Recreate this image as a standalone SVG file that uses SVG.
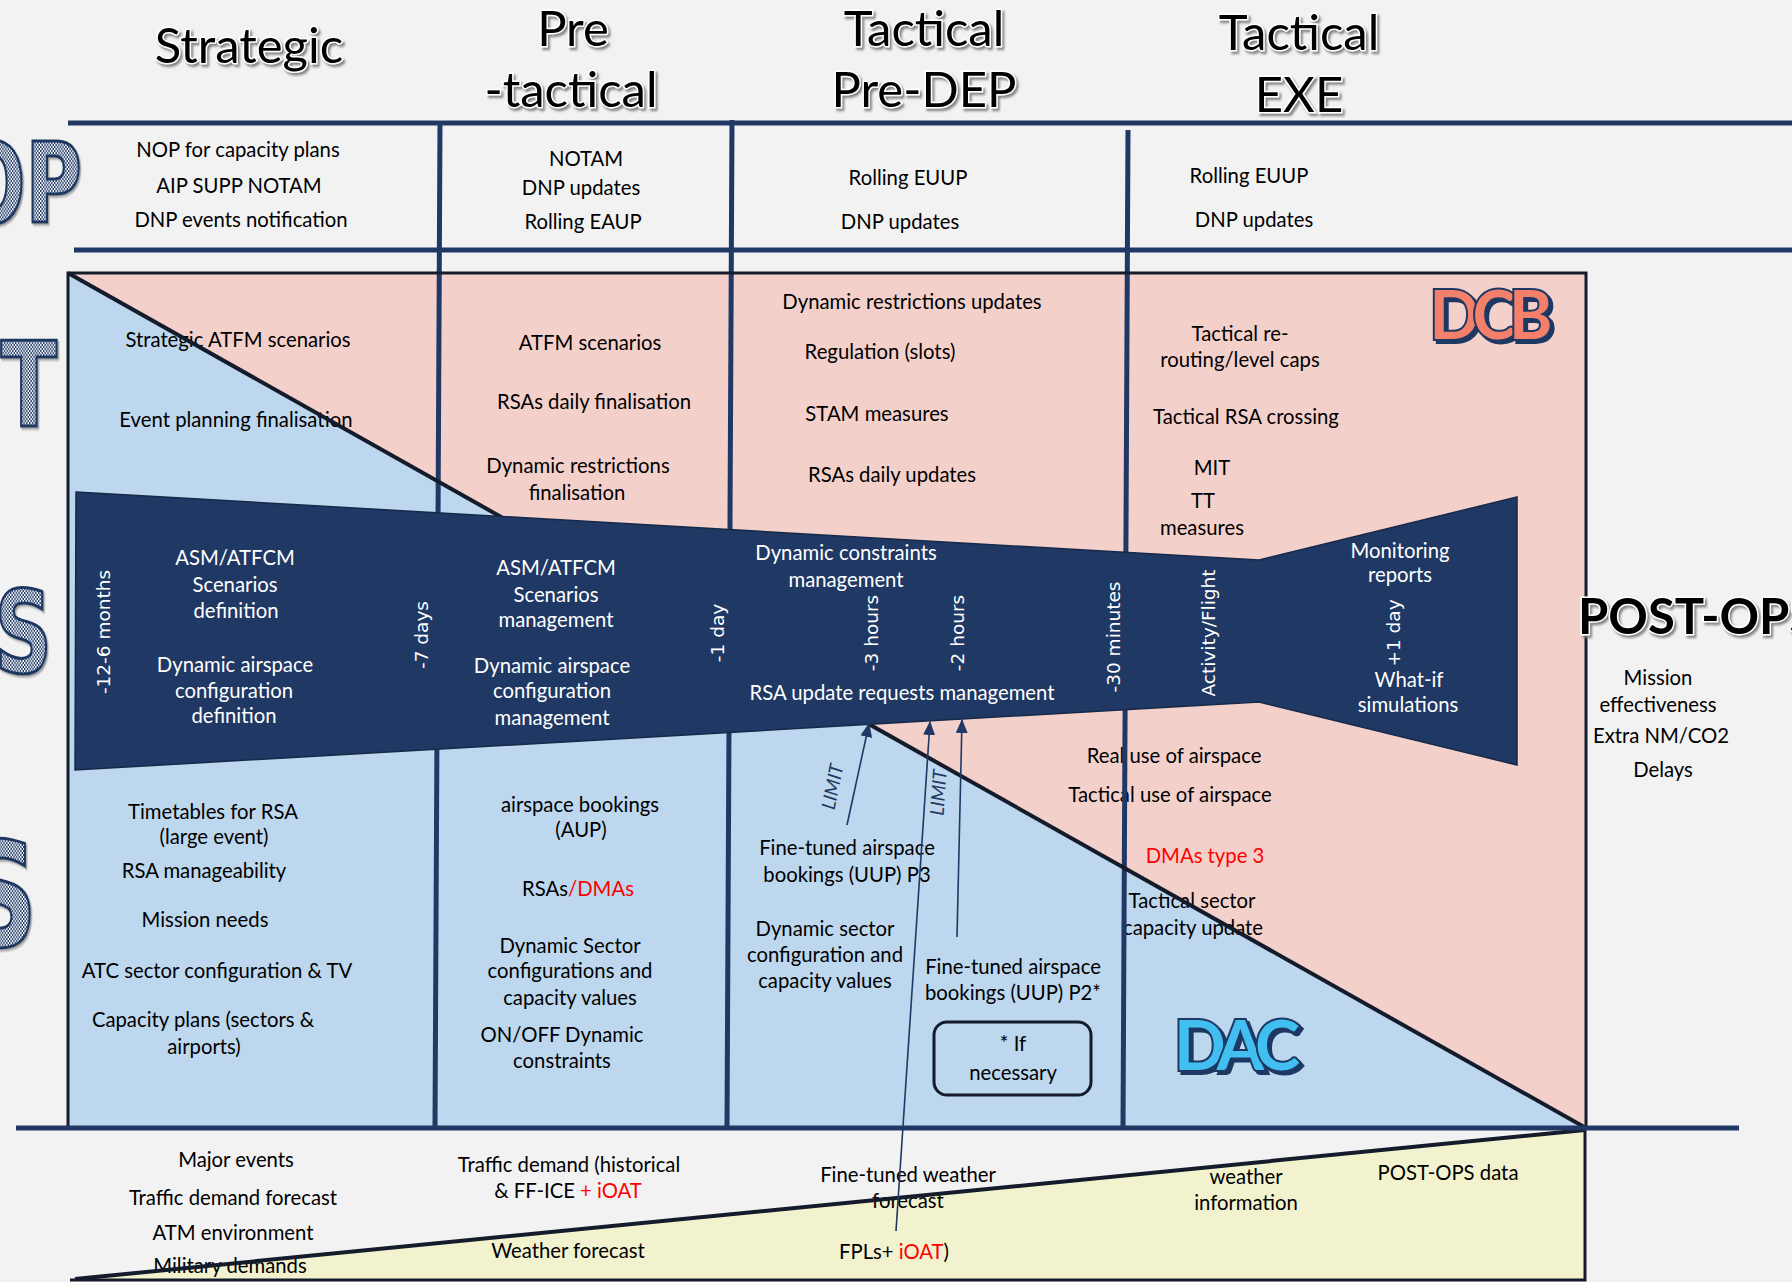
<svg xmlns="http://www.w3.org/2000/svg" width="1792" height="1282" viewBox="0 0 1792 1282">
  <defs>
    <style>
      .t { font-family: Lato, "Liberation Sans", sans-serif; font-size: 20.3px; fill: #000; text-anchor: middle; }
      .w { fill: #fff; }
      .red { fill: #ff0000; }
      .rot { font-family: "DejaVu Sans", sans-serif; font-size: 18.5px; fill: #fff; text-anchor: middle; }
      .hdr { font-family: Lato, "Liberation Sans", sans-serif; font-size: 49px; fill: #000; stroke: #fff; stroke-width: 3; paint-order: stroke; text-anchor: middle; filter: url(#hdrShadow); }
      .big { font-family: "DejaVu Sans", sans-serif; font-weight: bold; fill: url(#halftone); stroke: #1f3864; stroke-width: 3; text-anchor: end; filter: url(#bigShadow); }
      .logo { font-family: Lato, "Liberation Sans", sans-serif; font-weight: 700; stroke: #1f3864; stroke-width: 4; paint-order: stroke; text-anchor: middle; filter: url(#logoShadow); }
      .limit { font-family: Lato, "Liberation Sans", sans-serif; font-style: italic; font-size: 19px; fill: #1f3864; text-anchor: middle; }
      .grid { stroke: #1f3864; stroke-width: 5; fill: none; }
      .edge { stroke: #141b2b; fill: none; }
      .arrow { stroke: #1f3864; stroke-width: 1.6; fill: none; marker-end: url(#arrowHead); }
    </style>
    <filter id="hdrShadow" x="-10%" y="-20%" width="130%" height="150%">
      <feDropShadow dx="2" dy="2.5" stdDeviation="1.2" flood-color="#7a7a7a" flood-opacity="0.9"/>
    </filter>
    <filter id="logoShadow" x="-10%" y="-20%" width="130%" height="150%">
      <feDropShadow dx="3" dy="3" stdDeviation="0.4" flood-color="#1f3864" flood-opacity="1"/>
    </filter>
    <filter id="bigShadow" x="-10%" y="-10%" width="130%" height="130%">
      <feDropShadow dx="2" dy="2" stdDeviation="1" flood-color="#8a8a8a" flood-opacity="0.8"/>
    </filter>
    <pattern id="halftone" width="4" height="4" patternUnits="userSpaceOnUse">
      <rect width="4" height="4" fill="#ffffff"/>
      <rect width="2" height="2" fill="#1f3864"/>
      <rect x="2" y="2" width="2" height="2" fill="#1f3864"/>
    </pattern>
    <marker id="arrowHead" markerWidth="14" markerHeight="12" refX="13" refY="6" orient="auto" markerUnits="userSpaceOnUse">
      <path d="M0,0 L14,6 L0,12 z" fill="#1f3864"/>
    </marker>
  </defs>

  <!-- canvas -->
  <rect width="1792" height="1282" fill="#f2f2f2"/>

  <!-- DCB / DAC split box and the data wedge -->
  <g id="regions">
    <rect id="dcb-area" x="68" y="273" width="1518" height="855" fill="#f4d0cb"/>
    <polygon id="dac-area" points="68,273 1586,1128 68,1128" fill="#bdd7ee"/>
    <polygon id="data-area" points="75,1279 1585,1130 1585,1279" fill="#f2f2ce"/>
  </g>

  <!-- OP row -->
  <g id="op-row">
    <text class="t" x="238" y="157">NOP for capacity plans</text>
    <text class="t" x="239" y="193">AIP SUPP NOTAM</text>
    <text class="t" x="241" y="227">DNP events notification</text>
    <text class="t" x="586" y="166">NOTAM</text>
    <text class="t" x="581" y="195">DNP updates</text>
    <text class="t" x="583" y="229">Rolling EAUP</text>
    <text class="t" x="908" y="185">Rolling EUUP</text>
    <text class="t" x="900" y="229">DNP updates</text>
    <text class="t" x="1249" y="183">Rolling EUUP</text>
    <text class="t" x="1254" y="227">DNP updates</text>
  </g>

  <!-- DCB side -->
  <g id="dcb-strategic">
    <text class="t" x="238" y="347">Strategic ATFM scenarios</text>
    <text class="t" x="236" y="427">Event planning finalisation</text>
  </g>
  <g id="dcb-pretactical">
    <text class="t" x="590" y="350">ATFM scenarios</text>
    <text class="t" x="594" y="409">RSAs daily finalisation</text>
    <text class="t" x="578" y="473">Dynamic restrictions</text>
    <text class="t" x="577" y="500">finalisation</text>
  </g>
  <g id="dcb-predep">
    <text class="t" x="912" y="309">Dynamic restrictions updates</text>
    <text class="t" x="880" y="359">Regulation (slots)</text>
    <text class="t" x="877" y="421">STAM measures</text>
    <text class="t" x="892" y="482">RSAs daily updates</text>
  </g>
  <g id="dcb-exe">
    <text class="t" x="1240" y="341">Tactical re-</text>
    <text class="t" x="1240" y="367">routing/level caps</text>
    <text class="t" x="1246" y="424">Tactical RSA crossing</text>
    <text class="t" x="1212" y="475">MIT</text>
    <text class="t" x="1203" y="508">TT</text>
    <text class="t" x="1202" y="535">measures</text>
  </g>

  <!-- DAC side -->
  <g id="dac-strategic">
    <text class="t" x="213" y="819">Timetables for RSA</text>
    <text class="t" x="214" y="844">(large event)</text>
    <text class="t" x="204" y="878">RSA manageability</text>
    <text class="t" x="205" y="927">Mission needs</text>
    <text class="t" x="217" y="978">ATC sector configuration &amp; TV</text>
    <text class="t" x="203" y="1027">Capacity plans (sectors &amp;</text>
    <text class="t" x="204" y="1054">airports)</text>
  </g>
  <g id="dac-pretactical">
    <text class="t" x="580" y="812">airspace bookings</text>
    <text class="t" x="581" y="837">(AUP)</text>
    <text class="t" x="578" y="896">RSAs<tspan class="red">/DMAs</tspan></text>
    <text class="t" x="570" y="953">Dynamic Sector</text>
    <text class="t" x="570" y="978">configurations and</text>
    <text class="t" x="570" y="1005">capacity values</text>
    <text class="t" x="562" y="1042">ON/OFF Dynamic</text>
    <text class="t" x="562" y="1068">constraints</text>
  </g>
  <g id="dac-predep">
    <text class="t" x="847" y="855">Fine-tuned airspace</text>
    <text class="t" x="847" y="882">bookings (UUP) P3</text>
    <text class="t" x="825" y="936">Dynamic sector</text>
    <text class="t" x="825" y="962">configuration and</text>
    <text class="t" x="825" y="988">capacity values</text>
    <text class="t" x="1013" y="974">Fine-tuned airspace</text>
    <text class="t" x="1013" y="1000">bookings (UUP) P2*</text>
  </g>
  <g id="note-if-necessary">
    <rect x="934" y="1022" width="157" height="73" rx="13" ry="13" fill="none" stroke="#141b2b" stroke-width="3"/>
    <text class="t" x="1013" y="1051">* If</text>
    <text class="t" x="1013" y="1080">necessary</text>
  </g>
  <g id="dac-exe">
    <text class="t" x="1174" y="763">Real use of airspace</text>
    <text class="t" x="1170" y="802">Tactical use of airspace</text>
    <text class="t red" x="1205" y="863">DMAs type 3</text>
    <text class="t" x="1192" y="908">Tactical sector</text>
    <text class="t" x="1193" y="935">capacity update</text>
  </g>

  <!-- post-ops indicators -->
  <g id="post-ops-list">
    <text class="t" x="1658" y="685">Mission</text>
    <text class="t" x="1658" y="712">effectiveness</text>
    <text class="t" x="1661" y="743">Extra NM/CO2</text>
    <text class="t" x="1663" y="777">Delays</text>
  </g>

  <!-- input data row -->
  <g id="data-row">
    <text class="t" x="236" y="1167">Major events</text>
    <text class="t" x="233" y="1205">Traffic demand forecast</text>
    <text class="t" x="233" y="1240">ATM environment</text>
    <text class="t" x="230" y="1273">Military demands</text>
    <text class="t" x="569" y="1172">Traffic demand (historical</text>
    <text class="t" x="568" y="1198">&amp; FF-ICE <tspan class="red">+ iOAT</tspan></text>
    <text class="t" x="568" y="1258">Weather forecast</text>
    <text class="t" x="908" y="1182">Fine-tuned weather</text>
    <text class="t" x="908" y="1208">forecast</text>
    <text class="t" x="894" y="1259">FPLs+ <tspan class="red">iOAT</tspan>)</text>
    <text class="t" x="1246" y="1184">weather</text>
    <text class="t" x="1246" y="1210">information</text>
    <text class="t" x="1448" y="1180">POST-OPS data</text>
  </g>

  <!-- grid lines, frame and split diagonals -->
  <g id="grid">
    <path class="grid" d="M68,123 H1792"/>
    <path class="grid" d="M74,250 H1792"/>
    <path class="grid" d="M440,123 L435,1128"/>
    <path class="grid" d="M732,120 L727,1128"/>
    <path class="grid" d="M1128,130 L1123,1128"/>
    <rect class="edge" x="68" y="273" width="1518" height="855" stroke-width="3"/>
    <path class="edge" d="M68,273 L1586,1128" stroke-width="4"/>
    <path class="edge" d="M75,1279 L1585,1130" stroke-width="4"/>
    <path class="edge" d="M1585,1130 L1585,1280 L70,1280" stroke-width="3"/>
    <path class="grid" d="M16,1128 H1739" stroke-width="6"/>
  </g>

  <!-- ASM/ATFCM timeline band -->
  <g id="timeline-band">
    <polygon points="76,492 1259,560 1517,497 1517,765 1259,702 75,770" fill="#1f3864" stroke="#17294a" stroke-width="1.5"/>
    <text class="t w" x="235" y="565">ASM/ATFCM</text>
    <text class="t w" x="235" y="592">Scenarios</text>
    <text class="t w" x="236" y="618">definition</text>
    <text class="t w" x="235" y="672">Dynamic airspace</text>
    <text class="t w" x="234" y="698">configuration</text>
    <text class="t w" x="234" y="723">definition</text>
    <text class="t w" x="556" y="575">ASM/ATFCM</text>
    <text class="t w" x="556" y="602">Scenarios</text>
    <text class="t w" x="556" y="627">management</text>
    <text class="t w" x="552" y="673">Dynamic airspace</text>
    <text class="t w" x="552" y="698">configuration</text>
    <text class="t w" x="552" y="725">management</text>
    <text class="t w" x="846" y="560">Dynamic constraints</text>
    <text class="t w" x="846" y="587">management</text>
    <text class="t w" x="902" y="700">RSA update requests management</text>
    <text class="t w" x="1400" y="558">Monitoring</text>
    <text class="t w" x="1400" y="582">reports</text>
    <text class="t w" x="1409" y="687">What-if</text>
    <text class="t w" x="1408" y="712">simulations</text>
  </g>

  <!-- time markers along the band -->
  <g id="time-markers">
    <text class="rot" transform="translate(110,632) rotate(-90)">-12-6 months</text>
    <text class="rot" transform="translate(428,635) rotate(-90)">-7 days</text>
    <text class="rot" transform="translate(724,633) rotate(-90)">-1 day</text>
    <text class="rot" transform="translate(878,633) rotate(-90)">-3 hours</text>
    <text class="rot" transform="translate(964,633) rotate(-90)">-2 hours</text>
    <text class="rot" transform="translate(1120,637) rotate(-90)">-30 minutes</text>
    <text class="rot" transform="translate(1215,633) rotate(-90)">Activity/Flight</text>
    <text class="rot" transform="translate(1400,633) rotate(-90)">+1 day</text>
  </g>

  <!-- booking requests feeding the band -->
  <g id="connectors">
    <path class="arrow" d="M847,825 L869,724"/>
    <path class="arrow" d="M896,1231 L930,722"/>
    <path class="arrow" d="M957,937 L962,720"/>
    <text class="limit" transform="translate(839,788) rotate(-79)">LIMIT</text>
    <text class="limit" transform="translate(945,793) rotate(-86)">LIMIT</text>
  </g>

  <!-- area logos -->
  <g id="logo-dcb">
    <text class="logo" x="1491" y="339" font-size="66" fill="#f4806c" textLength="123">DCB</text>
  </g>
  <g id="logo-dac">
    <text class="logo" x="1237" y="1070" font-size="68" fill="#43bff1" textLength="126">DAC</text>
  </g>

  <!-- phase headings -->
  <g id="headings">
    <text class="hdr" x="249" y="63">Strategic</text>
    <text class="hdr" x="573" y="46">Pre</text>
    <text class="hdr" x="571" y="107">-tactical</text>
    <text class="hdr" x="924" y="46">Tactical</text>
    <text class="hdr" x="924" y="107">Pre-DEP</text>
    <text class="hdr" x="1299" y="50">Tactical</text>
    <text class="hdr" x="1299" y="112">EXE</text>
    <text class="hdr" x="1578" y="634" font-size="71" font-weight="700" style="text-anchor:start">POST-OPS</text>
  </g>

  <!-- row labels at the left margin -->
  <g id="row-labels">
    <text class="big" transform="translate(82,222) scale(0.7,1)" font-size="110">OP</text>
    <text class="big" transform="translate(57,426) scale(0.7,1)" font-size="118">T</text>
    <text class="big" transform="translate(52,672) scale(0.7,1)" font-size="114">S</text>
    <text class="big" transform="translate(37,946) scale(0.7,1)" font-size="144">S</text>
  </g>
</svg>
